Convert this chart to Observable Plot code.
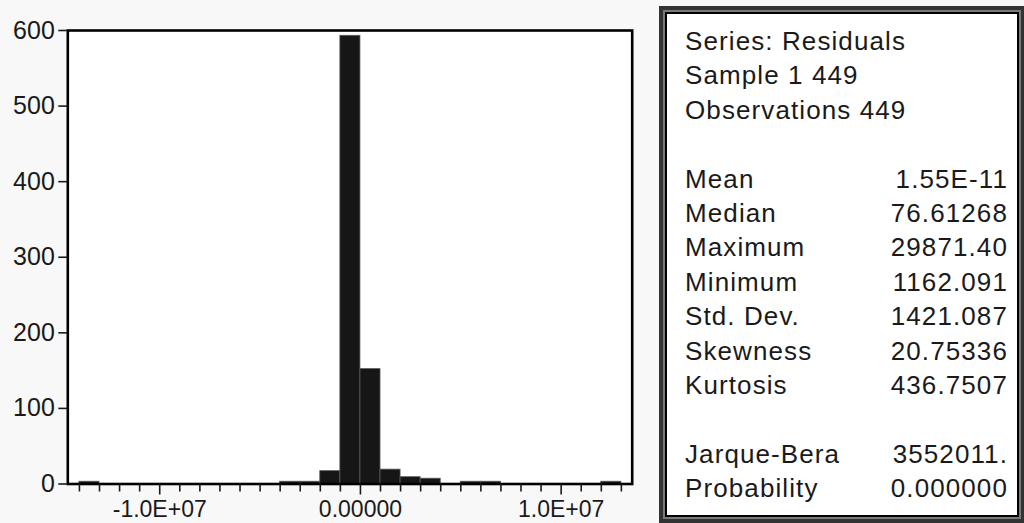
<!DOCTYPE html>
<html>
<head>
<meta charset="utf-8">
<script src="https://cdn.jsdelivr.net/npm/d3@7"></script>
<script src="https://cdn.jsdelivr.net/npm/@observablehq/plot@0.6"></script>
<style>
  html, body { margin: 0; padding: 0; overflow: hidden; background: #f8f8f8; }
  #page { position: relative; width: 1024px; height: 523px; overflow: hidden; font-family: "Liberation Sans", Arial, sans-serif; }
  #chart { position: absolute; left: 0; top: 0; }
  #box1 { position: absolute; left: 659px; top: 6px; width: 366px; height: 517px; box-sizing: border-box; border: 4px solid #333; }
  #box2 { box-sizing: border-box; height: 100%; border: 2px solid #7a7a7a; }
  #box3 { box-sizing: border-box; height: 100%; border: 2px solid #000; background: #fff; }
  #stats { position: absolute; left: 685px; top: 23.8px; width: 323px; font-size: 26px; letter-spacing: 1.1px; color: #1a1a1a; }
  .row { height: 34.45px; line-height: 34.45px; display: flex; justify-content: space-between; white-space: nowrap; }
</style>
</head>
<body>
<div id="page">
  <div id="chart"></div>
  <div id="box1"><div id="box2"><div id="box3"></div></div></div>
  <div id="stats"></div>
</div>
<script>
// Histogram bins (residuals), each 1.0E+06 wide
const binStart = [-14e6, -13e6, -12e6, -11e6, -10e6, -9e6, -8e6, -7e6, -6e6, -5e6, -4e6, -3e6, -2e6, -1e6, 0, 1e6, 2e6, 3e6, 4e6, 5e6, 6e6, 7e6, 8e6, 9e6, 10e6, 11e6, 12e6];
const binEnd   = [-13e6, -12e6, -11e6, -10e6, -9e6, -8e6, -7e6, -6e6, -5e6, -4e6, -3e6, -2e6, -1e6, 0, 1e6, 2e6, 3e6, 4e6, 5e6, 6e6, 7e6, 8e6, 9e6, 10e6, 11e6, 12e6, 13e6];
const counts   = [3, 0, 0, 0, 0, 0, 0, 0, 0, 0, 3, 3, 17, 593, 152, 19, 9, 7, 0, 3, 3, 0, 0, 0, 0, 0, 3];

// Axis ticks
const yTicks = [0, 100, 200, 300, 400, 500, 600];
const xMajorTicks = [-1e7, 0, 1e7];
const xMajorLabels = ["-1.0E+07", "0.00000", "1.0E+07"];
const xMinorTicks = [-14e6, -13e6, -12e6, -11e6, -9e6, -8e6, -7e6, -6e6, -5e6, -4e6, -3e6, -2e6, -1e6, 1e6, 2e6, 3e6, 4e6, 5e6, 6e6, 7e6, 8e6, 9e6, 11e6, 12e6, 13e6];

// Statistics panel
const headerLines = ["Series: Residuals", "Sample 1 449", "Observations 449"];
const statLabels = ["Mean", "Median", "Maximum", "Minimum", "Std. Dev.", "Skewness", "Kurtosis"];
const statValues = ["1.55E-11", "76.61268", "29871.40", "1162.091", "1421.087", "20.75336", "436.7507"];
const testLabels = ["Jarque-Bera", "Probability"];
const testValues = ["3552011.", "0.000000"];

const bins = binStart.map((s, i) => ({x1: s, x2: binEnd[i], count: counts[i]}));

const plot = Plot.plot({
  width: 1024,
  height: 523,
  marginLeft: 67.3,
  marginRight: 392.3,
  marginTop: 30,
  marginBottom: 39.5,
  style: {background: "transparent", fontFamily: "'Liberation Sans', Arial, sans-serif", fontSize: "22px", color: "#1a1a1a"},
  x: {domain: [-1.458e7, 1.354e7], label: null},
  y: {domain: [0, 600], label: null},
  marks: [
    Plot.frame({fill: "white", stroke: "none"}),
    Plot.rect(bins, {x1: "x1", x2: "x2", y1: 0, y2: "count", fill: "#161616", stroke: "#5a5a5a", strokeWidth: 0.8}),
    Plot.frame({stroke: "#000", strokeWidth: 2.6}),
    Plot.axisY(yTicks, {anchor: "left", tickSize: 9, tickPadding: 4, strokeWidth: 1.6, fontSize: 25, label: null, tickFormat: d => String(d)}),
    Plot.axisX(xMinorTicks, {anchor: "bottom", tickSize: 8, strokeWidth: 1.6, tickFormat: () => "", label: null}),
    Plot.axisX(xMajorTicks, {anchor: "bottom", tickSize: 11, tickPadding: 6, strokeWidth: 1.6, fontSize: 23, label: null, tickFormat: d => xMajorLabels[xMajorTicks.indexOf(d)]})
  ]
});
document.getElementById("chart").appendChild(plot);

const stats = document.getElementById("stats");
function addRow(left, right) {
  const r = document.createElement("div");
  r.className = "row";
  const a = document.createElement("span"); a.textContent = left;
  const b = document.createElement("span"); b.textContent = right;
  r.appendChild(a); r.appendChild(b);
  stats.appendChild(r);
}
headerLines.forEach(h => addRow(h, ""));
addRow("", "");
statLabels.forEach((l, i) => addRow(l, statValues[i]));
addRow("", "");
testLabels.forEach((l, i) => addRow(l, testValues[i]));
</script>
</body>
</html>
